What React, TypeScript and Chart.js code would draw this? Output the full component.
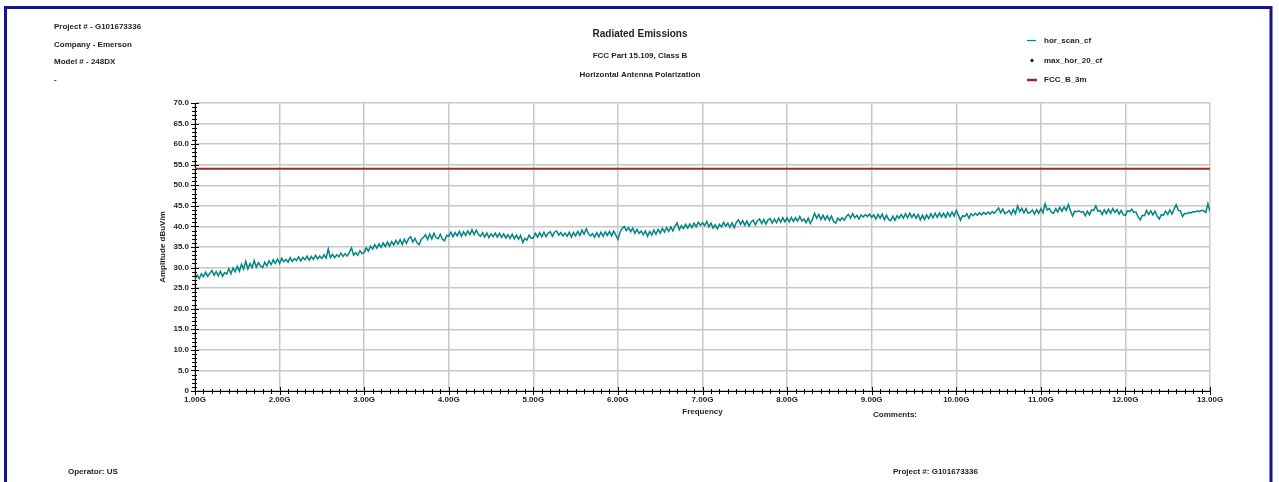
import React, { useEffect, useRef } from "react";
import { Chart, registerables } from "chart.js";

Chart.register(...registerables);

// ---------- data ----------
const FREQ_START_GHZ = 1.0;
const FREQ_STEP_GHZ = 0.025;

// hor_scan_cf amplitude (dBuV/m), one array per GHz band (40 samples each)
const scan1to2 = [27.0,28.2,27.3,28.5, 27.8,28.9,27.9,28.6, 29.3,28.1,29.0,28.0, 29.1,27.9,28.8,28.4, 29.7,28.5,29.9,29.0, 30.3,29.1,30.8,29.6, 31.5,29.7,31.0,30.0, 31.7,30.1,31.2,30.4, 30.0,31.3,30.4,31.6, 30.7,31.9,31.0,32.1];
const scan2to3 = [31.0,32.3,31.4,32.0, 31.3,32.4,31.5,32.2, 31.7,32.6,31.6,32.5, 31.9,32.8,31.8,32.7, 32.0,33.0,32.1,32.8, 32.2,33.1,32.3,34.5, 32.4,33.2,32.4,33.1, 32.6,33.5,32.7,33.4, 32.8,33.7,34.8,33.0, 33.6,33.0,34.1,33.4];
const scan3to4 = [33.7,34.8,34.0,35.2, 34.5,35.6,34.7,35.7, 34.9,36.0,35.1,36.2, 35.2,36.3,35.5,36.6, 35.7,36.8,35.6,36.9, 35.9,37.0,37.5,36.2, 37.1,36.0,35.6,36.9, 37.3,38.0,36.8,38.1, 37.0,38.3,37.3,37.0, 38.1,36.9,36.5,37.8];
const scan4to5 = [37.6,38.6,37.5,38.5, 37.7,38.8,37.6,38.7, 37.8,38.9,38.0,39.2, 38.0,39.1,38.1,37.6, 38.5,37.4,38.4,37.3, 38.2,37.5,38.4,37.4, 38.3,37.3,38.2,37.2, 38.0,37.1,38.1,37.0, 37.9,36.9,37.8,36.1, 37.1,36.7,37.9,37.1];
const scan5to6 = [37.3,38.3,37.4,38.5, 37.5,38.6,37.5,38.4, 38.7,37.6,38.6,38.9, 37.9,38.5,37.7,38.4, 37.6,38.6,37.4,38.5, 37.7,38.8,37.8,39.1, 38.1,39.4,38.3,37.7, 38.3,37.4,38.5,37.5, 38.6,37.6,38.7,37.8, 38.8,37.7,38.9,37.9];
const scan6to7 = [36.9,38.6,39.5,40.0, 39.0,39.7,38.7,39.6, 38.3,39.3,38.3,38.9, 38.0,38.9,37.6,38.8, 37.9,39.1,38.1,39.3, 38.4,39.5,38.6,39.7, 38.8,39.9,38.9,40.1, 40.9,39.2,40.2,39.5, 40.5,39.6,40.6,39.7, 40.8,39.9,41.0,40.3];
const scan7to8 = [40.9,40.2,41.2,39.9, 40.8,39.6,40.4,39.4, 40.5,39.9,41.0,40.1, 40.8,39.8,40.9,39.7, 41.0,41.6,40.5,41.4, 40.3,41.3,40.1,41.1, 41.5,40.4,41.4,41.8, 40.7,41.7,40.6,41.6, 41.9,40.8,41.8,40.9, 42.0,41.0,42.1,41.1];
const scan8to9 = [42.1,41.1,42.2,41.2, 42.1,41.3,42.4,41.3, 41.8,40.9,42.0,40.7, 41.7,43.2,42.0,42.9, 41.7,42.7,41.6,42.6, 41.5,42.5,41.2,40.8, 42.0,41.4,42.1,41.5, 42.4,42.9,42.0,43.1, 42.1,42.7,41.8,42.8, 42.3,42.9,42.4,43.0];
const scan9to10 = [42.2,42.8,41.8,42.9, 42.0,43.0,41.6,42.7, 41.7,41.4,42.5,41.5, 42.6,42.0,42.9,42.0, 43.1,42.1,43.2,42.2, 43.0,42.0,42.9,41.6, 42.7,41.7,42.8,41.9, 43.1,42.1,43.2,42.2, 43.3,42.3,43.2,42.2, 43.4,42.4,43.5,42.5];
const scan10to11 = [43.9,42.8,41.5,42.6, 42.4,43.1,42.0,43.1, 42.6,43.2,42.7,43.3, 42.8,43.4,42.9,43.5, 43.0,43.6,43.2,43.8, 44.5,43.3,44.2,43.1, 43.4,43.9,42.9,44.1, 43.1,45.0,43.6,44.4, 43.3,44.3,43.2,43.4, 44.0,43.0,44.1,43.2];
const scan11to12 = [44.3,43.3,45.5,44.0, 44.4,43.4,43.2,44.3, 43.5,44.6,43.7,44.7, 43.9,45.3,43.8,42.5, 43.7,43.6,43.8,43.5, 43.6,42.6,43.7,42.8, 44.0,43.9,45.0,43.7, 43.9,42.9,44.0,43.1, 44.2,43.2,44.3,43.4, 44.1,43.0,43.9,42.8];
const scan12to13 = [42.7,43.8,43.6,44.2, 43.4,43.5,42.3,41.6, 42.7,42.6,43.9,42.9, 43.8,42.8,43.7,42.5, 41.8,42.9,42.7,43.7, 42.9,44.0,43.0,44.2, 45.3,43.9,43.8,42.4, 43.2,43.1,43.4,43.3, 43.6,43.5,43.8,43.6, 43.9,43.8,43.4,45.5];
const scanEnd = [43.6];

const horScanValues = [
  ...scan1to2, ...scan2to3, ...scan3to4, ...scan4to5, ...scan5to6, ...scan6to7,
  ...scan7to8, ...scan8to9, ...scan9to10, ...scan10to11, ...scan11to12, ...scan12to13, ...scanEnd,
];

// FCC Class B 3 m limit
const limitFreqs = [1.0, 13.0];
const limitValues = [54.0, 54.0];

// max_hor_20_cf (no points in this plot)
const maxHorValues: { x: number; y: number }[] = [];

const X_MIN = 1, X_MAX = 13, Y_MIN = 0, Y_MAX = 70;

const headerLines = ["Project # - G101673336", "Company - Emerson", "Model # - 248DX", "-"];
const titleLines = ["Radiated Emissions", "FCC Part 15.109, Class B", "Horizontal Antenna Polarization"];
const legendNames = ["hor_scan_cf", "max_hor_20_cf", "FCC_B_3m"];

const TEAL = "#048484";
const LIMIT_RED = "#9c2a2a";
const TEXT = "#1e1e1e";
const FONT = '"Liberation Sans", Arial, sans-serif';

const extrasPlugin = {
  id: "extras",
  afterDraw(chart: any) {
    const ctx = chart.ctx as CanvasRenderingContext2D;
    const xs = chart.scales.x;
    const ys = chart.scales.y;
    ctx.save();

    // minor / major ticks crossing the axes
    ctx.strokeStyle = "#000";
    ctx.lineWidth = 1;
    for (let k = 0; k <= (X_MAX - X_MIN) * 10; k++) {
      const v = X_MIN + k / 10;
      const px = Math.round(xs.getPixelForValue(v)) + 0.5;
      const major = k % 10 === 0;
      ctx.beginPath();
      ctx.moveTo(px, ys.bottom - (major ? 4 : 2));
      ctx.lineTo(px, ys.bottom + (major ? 4 : 3));
      ctx.stroke();
    }
    for (let v = Y_MIN; v <= Y_MAX; v++) {
      const py = Math.round(ys.getPixelForValue(v)) + 0.5;
      const major = v % 5 === 0;
      ctx.beginPath();
      ctx.moveTo(xs.left - (major ? 4 : 3), py);
      ctx.lineTo(xs.left + (major ? 4 : 2), py);
      ctx.stroke();
    }

    ctx.fillStyle = TEXT;
    ctx.textBaseline = "middle";

    // header left
    ctx.font = `bold 8px ${FONT}`;
    ctx.textAlign = "left";
    const hy = [26.5, 44.5, 62, 80];
    headerLines.forEach((t, i) => ctx.fillText(t, 54, hy[i]));

    // titles
    ctx.textAlign = "center";
    ctx.font = `bold 10px ${FONT}`;
    ctx.fillText(titleLines[0], 640, 34);
    ctx.font = `bold 8px ${FONT}`;
    ctx.fillText(titleLines[1], 640, 55.5);
    ctx.fillText(titleLines[2], 640, 75);

    // legend
    const ly = [41, 60.5, 80];
    ctx.textAlign = "left";
    legendNames.forEach((t, i) => ctx.fillText(t, 1044, ly[i]));
    ctx.strokeStyle = TEAL;
    ctx.lineWidth = 1.2;
    ctx.beginPath();
    ctx.moveTo(1027, ly[0] - 0.5);
    ctx.lineTo(1036, ly[0] - 0.5);
    ctx.stroke();
    ctx.fillStyle = "#111";
    ctx.beginPath();
    ctx.moveTo(1032, ly[1] - 2);
    ctx.lineTo(1034, ly[1]);
    ctx.lineTo(1032, ly[1] + 2);
    ctx.lineTo(1030, ly[1]);
    ctx.closePath();
    ctx.fill();
    ctx.strokeStyle = LIMIT_RED;
    ctx.lineWidth = 2.5;
    ctx.beginPath();
    ctx.moveTo(1027, ly[2]);
    ctx.lineTo(1037, ly[2]);
    ctx.stroke();

    // axis titles
    ctx.fillStyle = TEXT;
    ctx.font = `bold 8px ${FONT}`;
    ctx.textAlign = "center";
    ctx.fillText("Frequency", (xs.left + xs.right) / 2, 411.5);
    ctx.save();
    ctx.translate(163, 247);
    ctx.rotate(-Math.PI / 2);
    ctx.fillText("Amplitude dBuV/m", 0, 0);
    ctx.restore();

    // footer notes
    ctx.textAlign = "left";
    ctx.fillText("Comments:", 873, 415);
    ctx.fillText("Operator: US", 68, 472);
    ctx.fillText("Project #: G101673336", 893, 472);

    // page border
    ctx.strokeStyle = "#14148c";
    ctx.lineWidth = 3;
    ctx.strokeRect(5.5, 7.5, 1265.5, 520);

    ctx.restore();
  },
};

export default function App() {
  const ref = useRef<HTMLCanvasElement | null>(null);

  useEffect(() => {
    if (!ref.current) return;
    const scanPoints = horScanValues.map((y, i) => ({ x: FREQ_START_GHZ + i * FREQ_STEP_GHZ, y }));
    const limitPoints = limitFreqs.map((x, i) => ({ x, y: limitValues[i] }));
    const tickFont = { family: FONT, size: 8, weight: "bold" as const };

    const chart = new Chart(ref.current, {
      type: "line",
      data: {
        datasets: [
          {
            label: legendNames[0],
            data: scanPoints,
            borderColor: TEAL,
            borderWidth: 1.5,
            pointRadius: 0,
            tension: 0,
          },
          {
            label: legendNames[1],
            data: maxHorValues,
            borderColor: "#111",
            backgroundColor: "#111",
            showLine: false,
            pointStyle: "rectRot",
            pointRadius: 2,
          },
          {
            label: legendNames[2],
            data: limitPoints,
            borderColor: LIMIT_RED,
            borderWidth: 2,
            pointRadius: 0,
          },
        ],
      },
      options: {
        animation: false,
        responsive: false,
        devicePixelRatio: 1,
        parsing: false as any,
        layout: { padding: { left: 0, right: 69, top: 103, bottom: 61 } },
        plugins: { legend: { display: false }, title: { display: false }, tooltip: { enabled: false } },
        scales: {
          x: {
            type: "linear",
            min: X_MIN,
            max: X_MAX,
            afterFit: (s: any) => { s.height = 30; },
            ticks: {
              stepSize: 1,
              autoSkip: false,
              maxRotation: 0,
              padding: 4,
              color: TEXT,
              font: tickFont,
              callback: (v: any) => Number(v).toFixed(2) + "G",
            },
            grid: { color: "#c8c8c8", lineWidth: 1.5, drawTicks: false },
            border: { display: true, color: "#000", width: 1 },
          },
          y: {
            type: "linear",
            min: Y_MIN,
            max: Y_MAX,
            afterFit: (s: any) => { s.width = 195; },
            ticks: {
              stepSize: 5,
              padding: 6,
              color: TEXT,
              font: tickFont,
              callback: (v: any) => (Number(v) === 0 ? "0" : Number(v).toFixed(1)),
            },
            grid: { color: "#c8c8c8", lineWidth: 1.5, drawTicks: false },
            border: { display: true, color: "#000", width: 1 },
          },
        },
      },
      plugins: [extrasPlugin],
    });
    return () => chart.destroy();
  }, []);

  return (
    <div style={{ position: "fixed", left: 0, top: 0, width: 1279, height: 482, background: "#fff" }}>
      <canvas ref={ref} width={1279} height={482} style={{ width: 1279, height: 482, display: "block" }} />
    </div>
  );
}
